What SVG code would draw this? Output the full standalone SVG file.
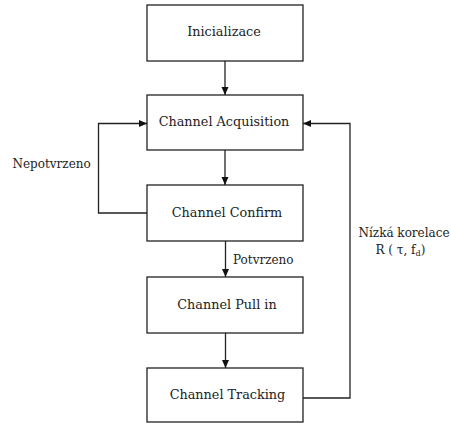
<svg xmlns="http://www.w3.org/2000/svg" width="451" height="423" viewBox="0 0 451 423">
<defs>
<style>
.box{fill:#fff;stroke:#222;stroke-width:1.3}
.ln{fill:none;stroke:#222;stroke-width:1.3}
text{font-family:"DejaVu Serif",serif;font-size:12px;fill:#222}
.c{text-anchor:middle}
.n{font-size:12.8px}
</style>
<marker id="ah" viewBox="0 0 8 8" refX="8" refY="4" markerWidth="8" markerHeight="8" markerUnits="userSpaceOnUse" orient="auto">
<path d="M0,0.5 L8,4 L0,7.5 Z" fill="#111"/>
</marker>
</defs>
<rect width="451" height="423" fill="#fff"/>
<g id="connectors">
<line class="ln" x1="225" y1="61" x2="225" y2="95" marker-end="url(#ah)"/>
<line class="ln" x1="225" y1="150" x2="225" y2="185" marker-end="url(#ah)"/>
<line class="ln" x1="225.5" y1="241" x2="225.5" y2="277" marker-end="url(#ah)"/>
<line class="ln" x1="225.5" y1="333" x2="225.5" y2="368" marker-end="url(#ah)"/>
<polyline class="ln" points="147,213 98.5,213 98.5,123.5 147,123.5" marker-end="url(#ah)"/>
<polyline class="ln" points="303,398 350,398 350,123.5 303,123.5" marker-end="url(#ah)"/>
<text x="12.5" y="168">Nepotvrzeno</text>
<text x="233" y="264">Potvrzeno</text>
<text x="404" y="237" class="c">Nízká korelace</text>
<text x="375.5" y="254">R ( τ, f<tspan font-size="8" dy="2">d</tspan><tspan dy="-2">)</tspan></text>
</g>
<g id="n1"><rect class="box" x="147" y="5" width="156" height="56"/><text x="224" y="36" class="c n">Inicializace</text></g>
<g id="n2"><rect class="box" x="147" y="95" width="156" height="55"/><text x="224" y="126" class="c n">Channel Acquisition</text></g>
<g id="n3"><rect class="box" x="147" y="185" width="156" height="56"/><text x="227" y="217" class="c n">Channel Confirm</text></g>
<g id="n4"><rect class="box" x="147" y="277" width="156" height="56"/><text x="227" y="309" class="c n">Channel Pull in</text></g>
<g id="n5"><rect class="box" x="147" y="368" width="156" height="54"/><text x="227.5" y="399" class="c n">Channel Tracking</text></g>
</svg>
